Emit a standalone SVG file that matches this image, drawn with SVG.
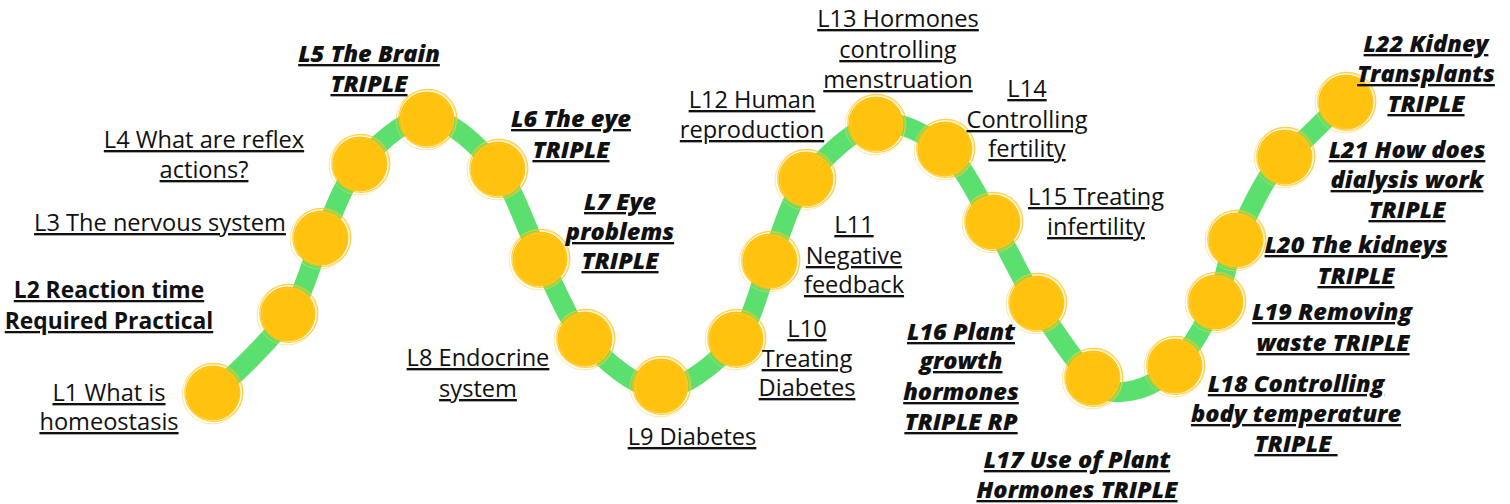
<svg xmlns="http://www.w3.org/2000/svg" xmlns:xlink="http://www.w3.org/1999/xlink" width="1510" height="504" viewBox="0 0 1510 504">
<style>
text{fill:#111;text-anchor:middle;text-decoration:underline}
.r{font-family:"Open Sans","Noto Sans","Liberation Sans",sans-serif;font-weight:400;font-size:23.6px}
.b{font-family:"Open Sans","Noto Sans","Liberation Sans",sans-serif;font-weight:700;font-size:22.8px}
.bi{font-family:"Open Sans","Noto Sans","Liberation Sans",sans-serif;font-weight:800;font-style:italic;font-size:23.6px}
.track{fill:none;stroke:#5BE06F;stroke-width:20;stroke-linecap:round;stroke-linejoin:round}
</style>
<defs>
<g id="dot">
<circle r="27.5" fill="#FFC20E"/>
<circle r="29" cx="0.8" cy="-0.6" fill="none" stroke="#FFC20E" stroke-width="1.3" opacity="0.75"/>
<circle r="30" cx="-0.9" cy="0.9" fill="none" stroke="#FFD24C" stroke-width="0.9" opacity="0.6"/>
<circle r="26" cx="0.6" cy="0.4" fill="none" stroke="#FFD45A" stroke-width="0.7" opacity="0.5"/>
</g>
</defs>
<rect width="1510" height="504" fill="#fff"/>
<g id="connectors">
<path class="track" d="M213,393 C227,382 269.8,341.8 288,316 C306.2,290.2 310,263.3 322,238 C334,212.7 342.3,184 360,164 C377.7,144 405,117 428,118 C451,119 479.2,146.5 498,170 C516.8,193.5 526.3,230.7 541,259 C555.7,287.3 566,318.3 586,340 C606,361.7 636,389 661,389 C686,389 717.8,361.3 736,340 C754.2,318.7 758.3,287.7 770,261 C781.7,234.3 788.3,202.8 806,180 C823.7,157.2 852.8,129 876,124 C899.2,119 925.5,133.5 945,150 C964.5,166.5 977.7,197.3 993,223 C1008.3,248.7 1020.3,277.8 1037,304 C1053.7,330.2 1077.5,365.5 1093,380 C1108.5,394.5 1116.3,393.3 1130,391 C1143.7,388.7 1160.7,380.8 1175,366 C1189.3,351.2 1205.8,323 1216,302 C1226.2,281 1224.5,264.2 1236,240 C1247.5,215.8 1266.7,170.8 1285,157 C1303.3,143.2 1334,108 1346,102"/>
</g>
<g id="n1"><use xlink:href="#dot" x="213" y="393"/><text class="r"><tspan x="109" y="401">L1 What is</tspan><tspan x="109" y="430">homeostasis</tspan></text></g>
<g id="n2"><use xlink:href="#dot" x="288" y="314"/><text class="b"><tspan x="109" y="298">L2 Reaction time</tspan><tspan x="109" y="329">Required Practical</tspan></text></g>
<g id="n3"><use xlink:href="#dot" x="321" y="238"/><text class="r"><tspan x="160" y="231">L3 The nervous system</tspan></text></g>
<g id="n4"><use xlink:href="#dot" x="360" y="164"/><text class="r"><tspan x="204" y="148">L4 What are reflex</tspan><tspan x="204" y="178">actions?</tspan></text></g>
<g id="n5"><use xlink:href="#dot" x="427" y="119"/><text class="bi"><tspan x="369" y="62">L5 The Brain</tspan><tspan x="369" y="92">TRIPLE</tspan></text></g>
<g id="n6"><use xlink:href="#dot" x="498" y="169"/><text class="bi"><tspan x="571" y="127">L6 The eye</tspan><tspan x="571" y="158">TRIPLE</tspan></text></g>
<g id="n7"><use xlink:href="#dot" x="540" y="259"/><text class="bi"><tspan x="620" y="210">L7 Eye</tspan><tspan x="620" y="240">problems</tspan><tspan x="620" y="269">TRIPLE</tspan></text></g>
<g id="n8"><use xlink:href="#dot" x="585" y="339"/><text class="r"><tspan x="478" y="366">L8 Endocrine</tspan><tspan x="478" y="397">system</tspan></text></g>
<g id="n9"><use xlink:href="#dot" x="661" y="386"/><text class="r"><tspan x="692" y="445">L9 Diabetes</tspan></text></g>
<g id="n10"><use xlink:href="#dot" x="736" y="339"/><text class="r"><tspan x="807" y="337">L10</tspan><tspan x="807" y="367">Treating</tspan><tspan x="807" y="396">Diabetes</tspan></text></g>
<g id="n11"><use xlink:href="#dot" x="770" y="261"/><text class="r"><tspan x="854" y="233">L11</tspan><tspan x="854" y="264">Negative</tspan><tspan x="854" y="293">feedback</tspan></text></g>
<g id="n12"><use xlink:href="#dot" x="806" y="179"/><text class="r"><tspan x="752" y="108">L12 Human</tspan><tspan x="752" y="138">reproduction</tspan></text></g>
<g id="n13"><use xlink:href="#dot" x="876" y="124"/><text class="r"><tspan x="898" y="27">L13 Hormones</tspan><tspan x="898" y="58">controlling</tspan><tspan x="898" y="88">menstruation</tspan></text></g>
<g id="n14"><use xlink:href="#dot" x="945" y="149"/><text class="r"><tspan x="1027" y="97">L14</tspan><tspan x="1027" y="128">Controlling</tspan><tspan x="1027" y="157">fertility</tspan></text></g>
<g id="n15"><use xlink:href="#dot" x="993" y="222"/><text class="r"><tspan x="1096" y="205">L15 Treating</tspan><tspan x="1096" y="235">infertility</tspan></text></g>
<g id="n16"><use xlink:href="#dot" x="1037" y="303"/><text class="bi"><tspan x="961" y="340">L16 Plant</tspan><tspan x="961" y="369">growth</tspan><tspan x="961" y="400">hormones</tspan><tspan x="961" y="430">TRIPLE RP</tspan></text></g>
<g id="n17"><use xlink:href="#dot" x="1093" y="378"/><text class="bi"><tspan x="1077" y="468">L17 Use of Plant</tspan><tspan x="1077" y="498">Hormones TRIPLE</tspan></text></g>
<g id="n18"><use xlink:href="#dot" x="1175" y="366"/><text class="bi" xml:space="preserve"><tspan x="1296" y="392">L18 Controlling</tspan><tspan x="1296" y="422">body temperature</tspan><tspan x="1296" y="452">TRIPLE </tspan></text></g>
<g id="n19"><use xlink:href="#dot" x="1216" y="302"/><text class="bi"><tspan x="1332" y="320">L19 Removing</tspan><tspan x="1333" y="351">waste TRIPLE</tspan></text></g>
<g id="n20"><use xlink:href="#dot" x="1236" y="240"/><text class="bi"><tspan x="1356" y="253">L20 The kidneys</tspan><tspan x="1356" y="284">TRIPLE</tspan></text></g>
<g id="n21"><use xlink:href="#dot" x="1285" y="157"/><text class="bi"><tspan x="1407" y="158">L21 How does</tspan><tspan x="1407" y="188">dialysis work</tspan><tspan x="1407" y="218">TRIPLE</tspan></text></g>
<g id="n22"><use xlink:href="#dot" x="1346" y="102"/><text class="bi"><tspan x="1426" y="52">L22 Kidney</tspan><tspan x="1426" y="82">Transplants</tspan><tspan x="1426" y="112">TRIPLE</tspan></text></g>
</svg>
